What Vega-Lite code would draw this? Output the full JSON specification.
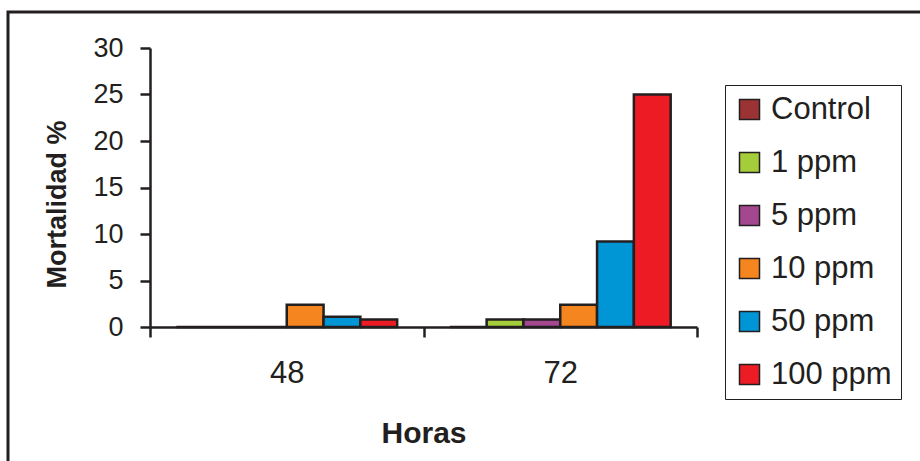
{
  "$schema": "https://vega.github.io/schema/vega-lite/v6.json",
  "autosize": "none",
  "padding": {"left": 8, "top": 12, "right": 0, "bottom": 0},
  "width": 916,
  "height": 452,
  "background": "white",
  "config": {
    "view": {"stroke": "#231f20", "strokeWidth": 3},
    "font": "Liberation Sans"
  },
  "data": {
    "values": [
      {"Horas": "48", "Conc": "Control", "Mortalidad": 0},
      {"Horas": "48", "Conc": "1 ppm", "Mortalidad": 0},
      {"Horas": "48", "Conc": "5 ppm", "Mortalidad": 0},
      {"Horas": "48", "Conc": "10 ppm", "Mortalidad": 2.4},
      {"Horas": "48", "Conc": "50 ppm", "Mortalidad": 1.1},
      {"Horas": "48", "Conc": "100 ppm", "Mortalidad": 0.8},
      {"Horas": "72", "Conc": "Control", "Mortalidad": 0},
      {"Horas": "72", "Conc": "1 ppm", "Mortalidad": 0.8},
      {"Horas": "72", "Conc": "5 ppm", "Mortalidad": 0.8},
      {"Horas": "72", "Conc": "10 ppm", "Mortalidad": 2.4},
      {"Horas": "72", "Conc": "50 ppm", "Mortalidad": 9.2},
      {"Horas": "72", "Conc": "100 ppm", "Mortalidad": 25}
    ]
  },
  "mark": {"type": "bar", "stroke": "#231f20", "strokeWidth": 2.5},
  "encoding": {
    "x": {
      "field": "Horas",
      "type": "nominal",
      "scale": {"range": [142, 689], "paddingInner": 0, "paddingOuter": 0},
      "axis": {
        "title": "Horas",
        "orient": "bottom",
        "offset": -137,
        "labelAngle": 0,
        "tickBand": "extent",
        "tickSize": 10,
        "tickWidth": 2.5,
        "tickColor": "#231f20",
        "domainColor": "#231f20",
        "domainWidth": 2.5,
        "labelFontSize": 31,
        "labelColor": "#231f20",
        "labelPadding": 21,
        "titleFontSize": 30,
        "titleFontWeight": "bold",
        "titleColor": "#231f20",
        "titlePadding": 30
      }
    },
    "xOffset": {
      "field": "Conc",
      "type": "nominal",
      "sort": ["Control", "1 ppm", "5 ppm", "10 ppm", "50 ppm", "100 ppm"],
      "scale": {"paddingInner": 0, "paddingOuter": 0.715}
    },
    "y": {
      "field": "Mortalidad",
      "type": "quantitative",
      "scale": {"domain": [0, 30], "range": [315, 36], "nice": false, "zero": true},
      "axis": {
        "title": "Mortalidad %",
        "offset": -142,
        "values": [0, 5, 10, 15, 20, 25, 30],
        "grid": false,
        "tickSize": 10,
        "tickWidth": 2.5,
        "tickColor": "#231f20",
        "domainColor": "#231f20",
        "domainWidth": 2.5,
        "labelFontSize": 27,
        "labelColor": "#231f20",
        "labelPadding": 17,
        "titleFontSize": 27,
        "titleFontWeight": "bold",
        "titleColor": "#231f20",
        "titlePadding": 21,
        "titleY": 192
      }
    },
    "color": {
      "field": "Conc",
      "type": "nominal",
      "scale": {
        "domain": ["Control", "1 ppm", "5 ppm", "10 ppm", "50 ppm", "100 ppm"],
        "range": ["#9b3335", "#a5cd39", "#a3478f", "#f5861f", "#0096d6", "#ed1c24"]
      },
      "legend": {
        "title": null,
        "orient": "none",
        "legendX": 717,
        "legendY": 73,
        "strokeColor": "#231f20",
        "padding": 9,
        "symbolType": "square",
        "symbolSize": 400,
        "symbolStrokeColor": "#231f20",
        "symbolStrokeWidth": 1.5,
        "symbolOpacity": 1,
        "labelFontSize": 31,
        "labelColor": "#231f20",
        "labelOffset": 6,
        "rowPadding": 21
      }
    }
  }
}
